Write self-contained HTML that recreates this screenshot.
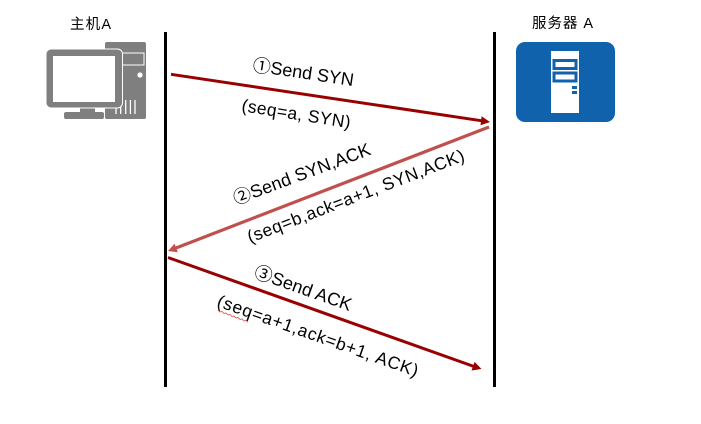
<!DOCTYPE html>
<html><head><meta charset="utf-8"><style>
html,body{margin:0;padding:0;background:#fff}
svg{display:block}
text{font-family:"Liberation Sans","Noto Sans CJK SC",sans-serif;fill:#000}
</style></head><body>
<svg width="701" height="424" viewBox="0 0 701 424" xmlns="http://www.w3.org/2000/svg">
<rect width="701" height="424" fill="#fff"/>
<text x="70" y="29" font-size="14.5" textLength="41">主机A</text>
<text x="532" y="28" font-size="14.5" textLength="61">服务器 A</text>

<!-- computer -->
<rect x="105" y="42" width="41" height="77" rx="2" fill="#7f7f7f"/>
<rect x="122.5" y="53" width="21.5" height="12" fill="none" stroke="#fff" stroke-width="1"/>
<circle cx="140" cy="75" r="2.6" fill="#fff"/>
<g stroke="#fff" stroke-width="1.3"><path d="M116 108V114M120.700 105V114M125.700 100V114M130.400 100V114M135 100V114"/></g>
<rect x="62" y="111" width="42" height="9" fill="#fff"/>
<rect x="64" y="112" width="40" height="7" rx="2" fill="#7f7f7f"/>
<rect x="80" y="106" width="15" height="6" fill="#7f7f7f"/>
<rect x="46" y="49" width="76.500" height="59" rx="5" fill="#7f7f7f" stroke="#fff" stroke-width="1"/>
<rect x="53" y="56" width="62" height="46" fill="#fff"/>

<!-- server -->
<rect x="516" y="42" width="99" height="80" rx="9" fill="#1062ac"/>
<rect x="551" y="51" width="28" height="62" fill="#fff"/>
<rect x="554" y="60.500" width="22" height="8" fill="#fff" stroke="#1062ac" stroke-width="3"/>
<rect x="554" y="73" width="22" height="8" fill="#fff" stroke="#1062ac" stroke-width="3"/>
<rect x="572" y="86" width="5" height="3" fill="#1062ac"/>
<rect x="572" y="91" width="5" height="3" fill="#1062ac"/>

<!-- lifelines -->
<rect x="164" y="32" width="3" height="355" fill="#000"/>
<rect x="493" y="32" width="3" height="355" fill="#000"/>

<!-- arrows -->
<line x1="171" y1="74.300" x2="482" y2="120.800" stroke="#990000" stroke-width="3"/>
<polygon points="490,122 480.500,125.300 481.600,116.300" fill="#990000"/>
<line x1="489" y1="127" x2="176" y2="248" stroke="#c0504d" stroke-width="3.200"/>
<polygon points="168,251 174.500,243.800 177.800,252.300" fill="#c0504d"/>
<line x1="168" y1="257.500" x2="474" y2="366.500" stroke="#990000" stroke-width="3"/>
<polygon points="481.500,369 471.500,370.500 474.600,361.900" fill="#990000"/>

<!-- labels -->
<text transform="translate(252 71) rotate(8.500)" font-size="18" textLength="102">①Send SYN</text>
<text transform="translate(241 111) rotate(9)" font-size="17.500" textLength="110">(seq=a, SYN)</text>
<text transform="translate(236 205) rotate(-20.500)" font-size="18" textLength="145">②Send SYN,ACK</text>
<text transform="translate(250 243) rotate(-21)" font-size="17.500" textLength="231">(seq=b,ack=a+1, SYN,ACK)</text>
<text transform="translate(253 277) rotate(19.500)" font-size="18" textLength="102">③Send ACK</text>
<text transform="translate(216 306) rotate(19.500)" font-size="17.500" textLength="212">(seq=a+1,ack=b+1, ACK)</text>
<path d="M218 310l2 2 2-.5 2 2 2-.5 2 2 2-.5 2 2 2-.5 2 2 2-.5 2 2 2-.5 2 2 2-.5 2 2" fill="none" stroke="#e05050" stroke-width=".8"/>
</svg>
</body></html>
